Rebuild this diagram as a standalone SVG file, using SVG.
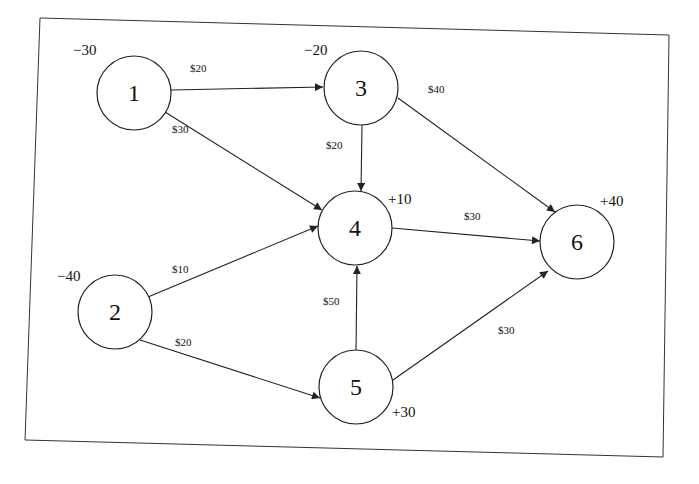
<svg xmlns="http://www.w3.org/2000/svg" width="699" height="484" viewBox="0 0 699 484">
<style>
.n{fill:#fff;stroke:#222;stroke-width:1.2}
.t{font-family:"Liberation Serif",serif;font-size:24px;text-anchor:middle;fill:#111}
.s{font-family:"Liberation Serif",serif;font-size:15px;fill:#111}
.e{font-family:"Liberation Serif",serif;font-size:11px;fill:#111}
.c{stroke:#222;stroke-width:1.1;fill:none;marker-end:url(#a)}
</style>
<defs><marker id="a" viewBox="0 0 10 10" refX="10" refY="5" markerWidth="10" markerHeight="8" orient="auto" markerUnits="userSpaceOnUse"><path d="M0,0L10,5L0,10z" fill="#222"/></marker></defs>
<rect width="699" height="484" fill="#fff"/>
<polygon points="40,18 669,35 663,457 25,440" fill="none" stroke="#333" stroke-width="1"/>
<g id="connectors">
<line class="c" x1="171" y1="90" x2="323" y2="87"/>
<line class="c" x1="165" y1="112" x2="322" y2="210"/>
<line class="c" x1="362" y1="125" x2="361" y2="191"/>
<line class="c" x1="398" y1="98" x2="555" y2="212"/>
<line class="c" x1="392" y1="228" x2="540" y2="241"/>
<line class="c" x1="148" y1="297" x2="318" y2="226"/>
<line class="c" x1="140" y1="340" x2="320" y2="398"/>
<line class="c" x1="356" y1="351" x2="357" y2="266"/>
<line class="c" x1="393" y1="380" x2="548" y2="271"/>
<text class="e" x="190" y="72">$20</text>
<text class="e" x="172" y="133">$30</text>
<text class="e" x="428" y="93">$40</text>
<text class="e" x="326" y="149">$20</text>
<text class="e" x="464" y="220">$30</text>
<text class="e" x="172" y="273">$10</text>
<text class="e" x="323" y="305">$50</text>
<text class="e" x="175" y="346">$20</text>
<text class="e" x="498" y="334">$30</text>
</g>
<g id="n1"><circle class="n" cx="134" cy="93" r="37"/><text class="t" x="134" y="101">1</text><text class="s" x="73" y="55">−30</text></g>
<g id="n3"><circle class="n" cx="361" cy="88" r="37"/><text class="t" x="361" y="96">3</text><text class="s" x="304" y="55">−20</text></g>
<g id="n4"><circle class="n" cx="355" cy="228" r="37"/><text class="t" x="355" y="236">4</text><text class="s" x="388" y="204">+10</text></g>
<g id="n6"><circle class="n" cx="577" cy="242" r="37"/><text class="t" x="577" y="250">6</text><text class="s" x="600" y="206">+40</text></g>
<g id="n2"><circle class="n" cx="115" cy="312" r="37"/><text class="t" x="115" y="320">2</text><text class="s" x="57" y="281">−40</text></g>
<g id="n5"><circle class="n" cx="356" cy="387" r="37"/><text class="t" x="356" y="395">5</text><text class="s" x="392" y="417">+30</text></g>
</svg>
